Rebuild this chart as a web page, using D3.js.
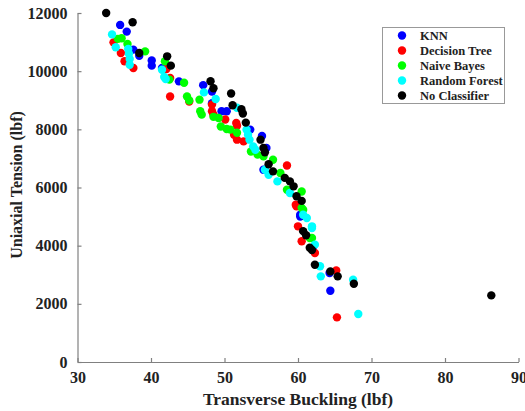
<!DOCTYPE html>
<html>
<head>
<meta charset="utf-8">
<script src="https://cdn.jsdelivr.net/npm/d3@7/dist/d3.min.js"></script>
<style>
  html, body { margin: 0; padding: 0; background: #fff; }
  svg { display: block; }
  text { font-family: "Liberation Serif", "Times New Roman", serif; font-weight: bold; }
</style>
</head>
<body>
<svg id="chart" width="525" height="411"></svg>
<script>
// Transverse buckling vs. uniaxial tension, per classifier
const seriesNames = ["KNN", "Decision Tree", "Naive Bayes", "Random Forest", "No Classifier"];
const seriesColors = ["#0000ff", "#ff0000", "#00ff00", "#00ffff", "#000000"];

const knn = [
  [35.8, 11590], [36.7, 11360], [37.6, 10740], [38.4, 10530], [40.1, 10370], [40.1, 10190],
  [41.5, 10110], [43.8, 9650], [47.1, 9520], [48.3, 9300], [48.3, 8900], [49.6, 8620],
  [50.3, 8620], [53.5, 7990], [55.1, 7770], [55.7, 7360], [55.3, 6610], [60.3, 5065],
  [60.3, 5005], [62.0, 3880], [64.3, 3060], [64.4, 2450]
];
const decisionTree = [
  [34.9, 10990], [35.9, 10625], [36.4, 10340], [37.6, 10110], [42.1, 10075], [42.6, 9765],
  [42.6, 9130], [45.2, 8955], [48.3, 8850], [48.3, 8620], [48.5, 8505], [50.1, 8340],
  [51.6, 8220], [51.7, 8125], [51.3, 7815], [51.7, 7645], [52.6, 7585], [58.5, 6755],
  [59.7, 5410], [59.8, 5350], [60.0, 4665], [60.5, 4150], [62.3, 3750], [65.2, 3150],
  [65.3, 1535]
];
const naiveBayes = [
  [35.5, 11110], [36.0, 11130], [36.8, 10935], [39.2, 10680], [41.9, 10340], [42.5, 9710],
  [44.5, 9600], [44.9, 9130], [45.2, 8990], [46.6, 9020], [46.7, 8620], [46.9, 8505],
  [48.5, 8430], [49.2, 8390], [49.5, 8100], [50.3, 8010], [50.8, 7990], [51.7, 7880],
  [53.6, 7240], [54.5, 7130], [55.3, 7070], [56.6, 6955], [57.6, 6500], [58.5, 5925],
  [60.5, 5865], [60.5, 5300], [60.7, 5235], [61.6, 4265], [61.9, 4265]
];
const randomForest = [
  [34.7, 11265], [35.2, 10820], [36.9, 10760], [37.0, 10600], [37.1, 10420], [37.1, 10220],
  [41.5, 10050], [41.8, 9800], [42.0, 9730], [47.2, 9270], [48.8, 9045], [51.7, 8740],
  [53.0, 7990], [53.2, 7815], [53.4, 7645], [53.9, 7415], [54.2, 7300], [55.5, 6610],
  [56.0, 6440], [57.2, 6210], [58.9, 5810], [60.7, 5065], [61.2, 4950], [61.9, 4665],
  [61.9, 4610], [62.3, 4035], [63.0, 3290], [63.1, 2945], [67.5, 2830], [68.2, 1650]
];
const noClassifier = [
  [33.9, 12000], [37.5, 11680], [38.4, 10625], [42.2, 10510], [42.7, 10190], [48.1, 9655],
  [48.5, 9415], [50.9, 9230], [51.1, 8830], [52.3, 8690], [52.5, 8545], [52.9, 8230],
  [54.9, 7645], [55.3, 7360], [55.5, 7210], [56.0, 6800], [56.6, 6555], [58.2, 6330],
  [58.9, 6210], [59.4, 6040], [59.8, 5700], [60.5, 5540], [60.7, 4500], [61.1, 4360],
  [61.6, 3930], [61.9, 3850], [62.3, 3345], [64.4, 3115], [65.4, 2945], [67.6, 2690],
  [86.3, 2290]
];
const seriesData = [knn, decisionTree, naiveBayes, randomForest, noClassifier];

const xTicks = [30, 40, 50, 60, 70, 80, 90];
const yTicks = [0, 2000, 4000, 6000, 8000, 10000, 12000];
const xTitle = "Transverse Buckling (lbf)";
const yTitle = "Uniaxial Tension (lbf)";

const svg = d3.select("#chart");
const plotLeft = 77.5, plotRight = 518.5, plotTop = 13, plotBottom = 362;
const axisColor = "#808080";

const x = d3.scaleLinear().domain([30, 90]).range([plotLeft, plotRight]);
const y = d3.scaleLinear().domain([0, 12000]).range([plotBottom, plotTop]);

// points, drawn series by series so later ones sit on top
const r = 4.2;
seriesData.forEach((pts, i) => {
  svg.append("g")
    .selectAll("circle")
    .data(pts)
    .join("circle")
    .attr("cx", d => x(d[0]))
    .attr("cy", d => y(d[1]))
    .attr("r", r)
    .attr("fill", seriesColors[i]);
});

// axes with inward ticks
const xAxis = svg.append("g")
  .attr("transform", `translate(0,${plotBottom})`)
  .call(d3.axisBottom(x).tickValues(xTicks).tickSizeInner(-4).tickSizeOuter(0).tickPadding(14));
const yAxis = svg.append("g")
  .attr("transform", `translate(${plotLeft},0)`)
  .call(d3.axisLeft(y).tickValues(yTicks).tickSizeInner(-4).tickSizeOuter(0).tickPadding(10)
    .tickFormat(d3.format("d")));

[xAxis, yAxis].forEach(g => {
  g.select(".domain").attr("stroke", axisColor).attr("stroke-width", 1.2);
  g.selectAll(".tick line").attr("stroke", axisColor).attr("stroke-width", 1.2);
  g.selectAll(".tick text")
    .attr("fill", "#222")
    .style("font-family", "'Liberation Serif', 'Times New Roman', serif")
    .style("font-weight", "bold")
    .style("font-size", "16px");
});
xAxis.selectAll(".tick text").attr("dy", "0.71em").attr("y", 10);

// axis titles
svg.append("text")
  .attr("x", (plotLeft + plotRight) / 2)
  .attr("y", 405)
  .attr("text-anchor", "middle")
  .attr("fill", "#222")
  .style("font-size", "17.5px")
  .text(xTitle);

svg.append("text")
  .attr("transform", "translate(22,185) rotate(-90)")
  .attr("text-anchor", "middle")
  .attr("fill", "#222")
  .style("font-size", "16px")
  .text(yTitle);

// legend
const lg = svg.append("g");
lg.append("rect")
  .attr("x", 382.5).attr("y", 27.5)
  .attr("width", 122).attr("height", 76)
  .attr("fill", "#fff")
  .attr("stroke", "#999")
  .attr("stroke-width", 1);
seriesNames.forEach((name, i) => {
  const cy = 35.5 + i * 15;
  lg.append("circle")
    .attr("cx", 402).attr("cy", cy).attr("r", 4.2)
    .attr("fill", seriesColors[i]);
  lg.append("text")
    .attr("x", 420).attr("y", cy)
    .attr("dy", "0.35em")
    .attr("fill", "#222")
    .style("font-size", "12.5px")
    .text(name);
});
</script>
</body>
</html>
